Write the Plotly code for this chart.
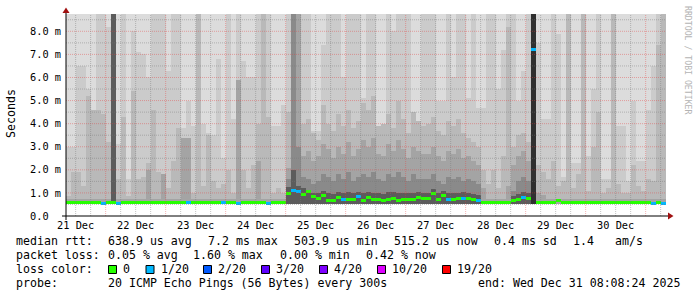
import plotly.graph_objects as go
from datetime import datetime, timedelta

# ---------------- data ----------------
series_start = datetime(2025, 12, 21, 8, 8, 24)
series_end = datetime(2025, 12, 31, 8, 8, 24)
bin_hours = 2  # one column of smoke per 2 hours

# median round-trip time per bin (ms)
median_ms = [
    0.60, 0.58, 0.60, 0.57, 0.60, 0.58, 0.60, 0.56, 0.60, 0.60, 0.55, 0.60,
    0.60, 0.58, 0.60, 0.60, 0.57, 0.60, 0.58, 0.60, 0.60, 0.58, 0.60, 0.57,
    0.58, 0.60, 0.60, 0.58, 0.60, 0.57, 0.60, 0.60, 0.58, 0.60, 0.56, 0.60,
    0.60, 0.58, 0.60, 0.57, 0.55, 0.60, 0.58, 0.60, 0.98, 1.10, 1.05, 0.95,
    1.05, 0.83, 0.77, 0.90, 0.69, 0.69, 0.80, 0.73, 0.73, 0.73, 0.84, 0.66,
    0.80, 0.72, 0.72, 0.66, 0.73, 0.77, 0.69, 0.73, 0.73, 0.73, 0.80, 0.74,
    0.74, 0.98, 0.73, 0.90, 0.72, 0.72, 0.75, 0.77, 0.76, 0.70, 0.66, 0.58,
    0.58, 0.57, 0.58, 0.57, 0.58, 0.66, 0.70, 0.80, 0.75, 7.22, 0.58, 0.60,
    0.58, 0.60, 0.66, 0.60, 0.58, 0.60, 0.58, 0.60, 0.58, 0.60, 0.58, 0.60,
    0.58, 0.60, 0.58, 0.60, 0.58, 0.60, 0.58, 0.60, 0.58, 0.55, 0.60, 0.55,
]

# lost pings (out of 20) per bin
loss_count = [
    0, 0, 0, 0, 0, 0, 0, 1, 0, 0, 1, 0,
    0, 0, 0, 0, 0, 0, 0, 0, 0, 0, 0, 0,
    1, 0, 0, 0, 0, 0, 0, 1, 0, 0, 1, 0,
    0, 0, 0, 0, 1, 0, 0, 0, 0, 1, 1, 0,
    0, 0, 0, 0, 0, 0, 0, 1, 0, 0, 1, 0,
    0, 0, 0, 0, 0, 0, 0, 0, 0, 0, 0, 0,
    0, 0, 0, 0, 1, 0, 0, 1, 0, 0, 1, 0,
    0, 0, 0, 0, 0, 0, 0, 1, 0, 1, 0, 0,
    0, 0, 0, 0, 0, 0, 0, 0, 0, 0, 0, 0,
    0, 0, 0, 0, 0, 0, 0, 0, 0, 1, 0, 1,
]

# smoke: lowest ping and the top of each grey layer (ms); 0 = layer absent
smoke_floor_ms = 0.5
smoke_light_ms = [  # lower edge of the lightest (outermost) band
    3.0, 3.0, 6.5, 6.5, 5.5, 1.8, 9.0, 9.0, 8.2, 9.0, 3.1, 9.0,
    1.6, 8.0, 7.1, 7.0, 6.0, 9.0, 9.0, 9.0, 6.3, 9.0, 9.0, 3.8,
    5.0, 3.9, 9.0, 4.0, 3.6, 3.5, 6.8, 2.5, 9.0, 4.2, 9.0, 6.7,
    6.0, 6.0, 9.0, 9.0, 9.0, 3.9, 3.9, 4.8, 9.0, 9.0, 9.0, 9.0,
    9.0, 3.7, 3.7, 7.4, 9.0, 9.0, 9.0, 6.0, 9.0, 9.0, 9.0, 5.1,
    9.0, 9.0, 3.5, 3.7, 9.0, 8.0, 9.0, 9.0, 9.0, 3.6, 3.6, 9.0,
    9.0, 9.0, 5.0, 5.0, 9.0, 6.0, 9.0, 9.0, 5.1, 9.0, 4.7, 4.7,
    9.0, 9.0, 5.5, 7.2, 9.0, 9.0, 5.0, 6.3, 9.0, 9.0, 7.5, 4.2,
    4.2, 9.0, 7.9, 1.7, 9.0, 2.3, 2.3, 9.0, 2.6, 5.5, 9.0, 1.6,
    1.6, 9.0, 3.9, 3.9, 1.5, 5.0, 2.4, 2.4, 4.6, 6.5, 9.0, 9.0,
]
smoke_l2_ms = [
    0.85, 1.9, 1.9, 1.3, 5.2, 4.6, 4.6, 4.4, 3.2, 0.85, 1.6, 4.3,
    0.85, 5.4, 1.6, 1.7, 2.3, 4.6, 1.9, 1.8, 1.2, 2.4, 3.8, 3.4,
    3.4, 1.0, 9.0, 1.3, 3.5, 1.5, 1.2, 1.4, 2.0, 1.0, 5.9, 2.0,
    1.2, 2.2, 4.0, 9.0, 4.3, 1.0, 1.2, 1.0, 4.5, 5.0, 5.5, 4.0,
    4.2, 3.6, 3.3, 4.8, 4.0, 3.7, 4.4, 3.9, 4.6, 3.8, 4.1, 4.9,
    4.6, 5.2, 3.9, 4.0, 4.4, 3.8, 5.0, 4.2, 3.6, 4.5, 4.1, 3.9,
    4.0, 4.3, 3.7, 3.5, 4.1, 3.9, 4.2, 3.6, 3.4, 3.2, 3.0, 2.0,
    1.4, 2.0, 1.2, 2.6, 8.2, 3.0, 3.5, 3.6, 3.2, 3.0, 2.2, 1.9,
    1.6, 2.4, 1.3, 1.5, 9.0, 1.2, 1.8, 9.0, 1.1, 3.0, 4.5, 1.0,
    1.2, 9.0, 1.4, 1.0, 1.0, 2.2, 1.3, 1.1, 1.6, 1.5, 7.4, 9.0,
]
smoke_l3_ms = [
    0.75, 0.75, 0.75, 0.75, 0.75, 0.75, 0.75, 0.75, 0.75, 0, 0.75, 0.75,
    0.75, 0.75, 0.75, 0.75, 2.0, 0.75, 0.75, 1.8, 0.75, 0.75, 0.75, 3.4,
    3.4, 0.75, 0.75, 0.75, 0.75, 0.75, 0.75, 0.75, 0.75, 0.75, 5.9, 0.75,
    0.75, 0.75, 2.4, 0.75, 0.75, 0.75, 0.75, 0.75, 2.1, 5.0, 9.0, 2.6,
    2.8, 2.4, 2.6, 3.1, 2.9, 2.5, 3.0, 2.7, 3.2, 2.6, 2.9, 3.3,
    3.0, 3.4, 2.7, 2.6, 3.1, 2.8, 3.3, 2.9, 2.5, 3.0, 2.8, 2.7,
    2.7, 3.0, 2.6, 2.4, 2.8, 2.7, 2.9, 2.5, 2.6, 2.4, 2.2, 1.2,
    0.75, 0.75, 0.75, 0.75, 1.3, 2.2, 2.6, 2.8, 2.4, 0, 1.0, 0.9,
    0.75, 0.75, 0.75, 0.75, 0.75, 0.75, 0.75, 0.75, 0.75, 0.75, 0.75, 0.75,
    0.75, 0.75, 0.75, 0.75, 0.75, 0.75, 0.75, 0.75, 0.75, 0.75, 0.75, 0.75,
]
smoke_l4_ms = [
    0, 0, 0, 0, 0, 0, 0, 0, 0, 0, 0, 0,
    0, 0, 0, 0, 0, 0, 0, 0, 0, 0, 0, 0,
    0, 0, 0, 0, 0, 0, 0, 0, 0, 0, 0, 0,
    0, 0, 0, 0, 0, 0, 0, 0, 1.6, 9.0, 3.0, 1.7,
    1.6, 1.4, 1.5, 1.8, 1.7, 1.5, 1.8, 1.6, 1.9, 1.5, 1.7, 1.8,
    1.7, 1.9, 1.6, 1.5, 1.8, 1.7, 1.9, 1.7, 1.5, 1.8, 1.6, 1.6,
    1.6, 1.8, 1.5, 1.4, 1.7, 1.6, 1.7, 1.5, 1.6, 1.5, 1.4, 0,
    0, 0, 0, 0, 0, 1.1, 1.5, 1.7, 1.5, 0, 0, 0,
    0, 0, 0, 0, 0, 0, 0, 0, 0, 0, 0, 0,
    0, 0, 0, 0, 0, 0, 0, 0, 0, 0, 0, 0,
]
smoke_l5_ms = [
    0, 0, 0, 0, 0, 0, 0, 0, 0, 9.0, 0, 0,
    0, 0, 0, 0, 0, 0, 0, 0, 0, 0, 0, 0,
    0, 0, 0, 0, 0, 0, 0, 0, 0, 0, 0, 0,
    0, 0, 0, 0, 0, 0, 0, 0, 1.25, 2.0, 1.3, 1.2,
    1.05, 1.0, 1.0, 1.1, 1.0, 0.95, 1.05, 1.0, 1.05, 1.0, 1.05, 1.0,
    1.05, 1.0, 1.0, 0.95, 1.05, 1.05, 1.0, 1.0, 1.0, 1.0, 1.05, 1.0,
    1.0, 1.15, 1.0, 1.1, 1.0, 1.0, 1.0, 1.05, 1.0, 0.95, 0.9, 0,
    0, 0, 0, 0, 0, 0.85, 0.95, 1.05, 1.0, 0, 0, 0,
    0, 0, 0, 0, 0, 0, 0, 0, 0, 0, 0, 0,
    0, 0, 0, 0, 0, 0, 0, 0, 0, 0, 0, 0,
]
smoke_l6_ms = [
    0, 0, 0, 0, 0, 0, 0, 0, 0, 0, 0, 0,
    0, 0, 0, 0, 0, 0, 0, 0, 0, 0, 0, 0,
    0, 0, 0, 0, 0, 0, 0, 0, 0, 0, 0, 0,
    0, 0, 0, 0, 0, 0, 0, 0, 0, 0, 0, 0,
    0, 0, 0, 0, 0, 0, 0, 0, 0, 0, 0, 0,
    0, 0, 0, 0, 0, 0, 0, 0, 0, 0, 0, 0,
    0, 0, 0, 0, 0, 0, 0, 0, 0, 0, 0, 0,
    0, 0, 0, 0, 0, 0, 0, 0, 0, 9.0, 0, 0,
    0, 0, 0, 0, 0, 0, 0, 0, 0, 0, 0, 0,
    0, 0, 0, 0, 0, 0, 0, 0, 0, 0, 0, 0,
]

day_labels = ["21 Dec", "22 Dec", "23 Dec", "24 Dec", "25 Dec",
              "26 Dec", "27 Dec", "28 Dec", "29 Dec", "30 Dec"]
y_tick_values = [0, 1, 2, 3, 4, 5, 6, 7, 8]
y_tick_labels = ["0.0", "1.0 m", "2.0 m", "3.0 m", "4.0 m",
                 "5.0 m", "6.0 m", "7.0 m", "8.0 m"]

median_rtt_stats = ["638.9 us avg", "7.2 ms max", "503.9 us min",
                    "515.2 us now", "0.4 ms sd", "1.4", "am/s"]
packet_loss_stats = ["0.05 % avg", "1.60 % max", "0.00 % min", "0.42 % now"]
loss_levels = [0, 1, 2, 3, 4, 10, 19]
loss_level_labels = ["0", "1/20", "2/20", "3/20", "4/20", "10/20", "19/20"]
loss_colors = ["#26ff00", "#00b8ff", "#0059ff", "#5e00ff",
               "#7e00ff", "#dd00ff", "#ff0000"]
probe_text = "20 ICMP Echo Pings (56 Bytes) every 300s"

# ---------------- layout constants ----------------
W, H = 697, 297
PL, PT, PW, PH = 66, 14, 600, 202
Y_MAX = 8.75
MONO = "DejaVu Sans Mono"


def fx(px):
    return (px - PL) / PW


def fy(py):
    return (PT + PH - py) / PH


n = len(median_ms)
step = timedelta(hours=bin_hours)
x_mid = [series_start + step * (i + 0.5) for i in range(n)]
bar_w = bin_hours * 3600 * 1000

fig = go.Figure()


def add_band(bases, tops, color):
    hs = [max(0.0, min(t, Y_MAX + 0.3) - b) if t > b else 0.0 for b, t in zip(bases, tops)]
    fig.add_trace(go.Bar(
        x=x_mid, y=hs, base=bases, width=[bar_w] * n,
        marker=dict(color=color, line=dict(width=0)),
        hoverinfo="skip", showlegend=False))


floor = [smoke_floor_ms] * n
add_band(floor, [Y_MAX + 0.3] * n, "#cbcbcb")
add_band(smoke_light_ms, [Y_MAX + 0.3 if v < Y_MAX else 0 for v in smoke_light_ms], "#dcdcdc")
add_band(floor, smoke_l2_ms, "#b9b9b9")
add_band(floor, smoke_l3_ms, "#a4a4a4")
add_band(floor, smoke_l4_ms, "#8a8a8a")
add_band(floor, smoke_l5_ms, "#5c5c5c")
add_band(floor, smoke_l6_ms, "#303030")


def loss_color(c):
    col = loss_colors[0]
    for lv, cc in zip(loss_levels, loss_colors):
        if c >= lv:
            col = cc
    return col


med_h = 0.13
fig.add_trace(go.Bar(
    x=x_mid, y=[med_h] * n, base=[m - med_h / 2 for m in median_ms],
    width=[bar_w] * n,
    marker=dict(color=[loss_color(c) for c in loss_count], line=dict(width=0)),
    hoverinfo="skip", showlegend=False))

shapes = []
minor_h = dict(color="rgba(120,120,120,0.45)", width=1, dash="1px,1px")
major_h = dict(color="rgba(230,60,60,0.40)", width=1, dash="1px,1px")
v = 0.5
while v < Y_MAX:
    is_major = abs(v - round(v)) < 1e-9
    shapes.append(dict(type="line", xref="x", yref="y", layer="above",
                       x0=series_start, x1=series_end, y0=v, y1=v,
                       line=major_h if is_major else minor_h))
    v += 0.5
t = datetime(series_start.year, series_start.month, series_start.day, 12)
while t < series_end:
    shapes.append(dict(type="line", xref="x", yref="y", layer="above",
                       x0=t, x1=t, y0=0, y1=Y_MAX,
                       line=major_h if t.hour == 0 else minor_h))
    t += timedelta(hours=6)

shapes.append(dict(type="line", xref="paper", yref="paper", layer="above",
                   x0=fx(62), x1=fx(669), y0=fy(216), y1=fy(216),
                   line=dict(color="black", width=1)))
shapes.append(dict(type="line", xref="paper", yref="paper", layer="above",
                   x0=fx(66), x1=fx(66), y0=fy(220), y1=fy(11),
                   line=dict(color="black", width=1)))
shapes.append(dict(type="path", xref="paper", yref="paper", layer="above",
                   path=f"M {fx(668)},{fy(212.5)} L {fx(673.5)},{fy(216)} L {fx(668)},{fy(219.5)} Z",
                   fillcolor="#a01010", line=dict(width=0)))
shapes.append(dict(type="path", xref="paper", yref="paper", layer="above",
                   path=f"M {fx(62.5)},{fy(13)} L {fx(66)},{fy(7.5)} L {fx(69.5)},{fy(13)} Z",
                   fillcolor="#a01010", line=dict(width=0)))

annotations = []


def text_at(x, y, s, size=11.6, color="black", anchor="left", angle=0, ya="middle"):
    annotations.append(dict(xref="paper", yref="paper", x=fx(x), y=fy(y), text=s,
                            showarrow=False, xanchor=anchor, yanchor=ya,
                            textangle=angle, borderpad=0,
                            font=dict(family=MONO, size=size, color=color)))


row_y = [241.3, 255.3, 269.3, 283.3]
text_at(15, row_y[0], "median rtt:")
for s, x in zip(median_rtt_stats, [106.5, 206.5, 292.5, 392.5, 492.5, 571.5, 613.5]):
    text_at(x, row_y[0], s)
text_at(15, row_y[1], "packet loss:")
for s, x in zip(packet_loss_stats, [106.5, 192, 278.5, 364.5]):
    text_at(x, row_y[1], s)
text_at(15, row_y[2], "loss color:")
box_x = [108.5, 146, 203.5, 261.5, 319.5, 377.5, 442.5]
for bx, lab, col in zip(box_x, loss_level_labels, loss_colors):
    shapes.append(dict(type="rect", xref="paper", yref="paper", layer="above",
                       x0=fx(bx), x1=fx(bx + 8), y0=fy(273.5), y1=fy(265.5),
                       fillcolor=col, line=dict(color="black", width=1)))
    text_at(bx + 13.5, row_y[2], lab)
text_at(15, row_y[3], "probe:")
text_at(106.5, row_y[3], probe_text)
text_at(680.5, row_y[3], series_end.strftime("end: %a %b %d %H:%M:%S %Y"), anchor="right")

text_at(11, 114, "Seconds", angle=-90, anchor="center")
text_at(688, 60, "RRDTOOL / TOBI OETIKER", size=8.2, color="#b4b4b4", angle=90, anchor="center")

noon_ticks = [datetime(2025, 12, 21 + k, 12) for k in range(len(day_labels))]

fig.update_layout(
    width=W, height=H, autosize=False,
    margin=dict(l=PL, r=W - PL - PW, t=PT, b=H - PT - PH, pad=0),
    paper_bgcolor="white", plot_bgcolor="white",
    barmode="overlay", bargap=0, showlegend=False,
    shapes=shapes, annotations=annotations,
    xaxis=dict(type="date", range=[series_start, series_end],
               tickvals=noon_ticks, ticktext=day_labels,
               showgrid=False, zeroline=False, showline=False, ticks="",
               tickfont=dict(family=MONO, size=10.3, color="black"),
               ticklabelstandoff=2, fixedrange=True),
    yaxis=dict(range=[0, Y_MAX], tickvals=y_tick_values,
               ticktext=[s + "\u00a0" * (5 - len(s)) for s in y_tick_labels],
               showgrid=False, zeroline=False, showline=False, ticks="",
               tickfont=dict(family=MONO, size=10.3, color="black"),
               ticklabelstandoff=4, fixedrange=True),
)

fig.write_html("out.html", config={"displayModeBar": False})
